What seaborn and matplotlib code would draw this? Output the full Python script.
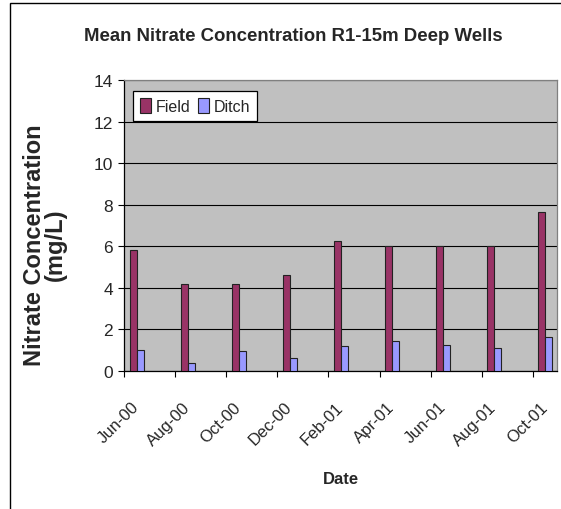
import matplotlib
matplotlib.use("Agg")
import matplotlib.pyplot as plt
import matplotlib.patches as mpatches
import seaborn as sns
import pandas as pd

dates = ["Jun-00", "Aug-00", "Oct-00", "Dec-00", "Feb-01", "Apr-01", "Jun-01", "Aug-01", "Oct-01"]
field = [5.8, 4.2, 4.2, 4.6, 6.25, 6.0, 6.0, 6.0, 7.67]
ditch = [1.02, 0.38, 0.96, 0.62, 1.19, 1.42, 1.24, 1.13, 1.65]
series = ["Field", "Ditch"]
colors = ["#993366", "#9999FF"]
yticks = [0, 2, 4, 6, 8, 10, 12, 14]

df = pd.DataFrame({
    "Date": dates * 2,
    "Value": field + ditch,
    "Series": [series[0]] * len(dates) + [series[1]] * len(dates),
})

sns.set_style("white")
plt.rcParams["font.family"] = ["Liberation Sans", "DejaVu Sans"]

W, H = 561, 510
fig = plt.figure(figsize=(W / 100, H / 100), dpi=100)
fig.patch.set_facecolor("white")

ax_l, ax_r, ax_t, ax_b = 124, 557, 81, 372
ax = fig.add_axes([ax_l / W, 1 - ax_b / H, (ax_r - ax_l) / W, (ax_b - ax_t) / H])
ax.set_facecolor("#C0C0C0")

sns.barplot(data=df, x="Date", y="Value", hue="Series", order=dates,
            hue_order=series, palette=colors, width=0.274, dodge=True,
            edgecolor="#222222", linewidth=0.8, saturation=1, ax=ax, zorder=3)

left = -0.245
ax.set_xlim(left, left + (ax_r - ax_l) / 51.1)
ax.set_ylim(0, 14)
ax.set_yticks(yticks)
ax.set_yticklabels([str(v) for v in yticks], fontsize=12.5)
ax.yaxis.grid(True, color="black", linewidth=0.8, zorder=1)
ax.set_axisbelow(True)

# boundaries (major ticks) and labels (minor ticks)
ax.set_xticks([left + k for k in range(len(dates))])
ax.set_xticklabels([])
ax.set_xticks(range(len(dates)), minor=True)
ax.set_xticklabels(dates, minor=True, rotation=45, ha="right", va="center",
                   rotation_mode="anchor", fontsize=12)
ax.tick_params(axis="x", which="major", direction="out", length=4, width=0.8,
               color="black", bottom=True)
ax.tick_params(axis="x", which="minor", length=0, pad=24)
ax.tick_params(axis="y", direction="out", length=4, width=0.8, color="black",
               left=True, pad=4)

for s in ["left", "bottom"]:
    ax.spines[s].set_color("black")
    ax.spines[s].set_linewidth(0.9)
for s in ["top", "right"]:
    ax.spines[s].set_color("#808080")
    ax.spines[s].set_linewidth(0.9)

ax.set_xlabel("")
ax.set_ylabel("")

leg = ax.legend(loc="upper left", bbox_to_anchor=(0.0208, 0.962), borderaxespad=0,
                ncol=2, fontsize=11.5, frameon=True, fancybox=False,
                handlelength=0.7, handleheight=1.0, handletextpad=0.25,
                columnspacing=0.5, borderpad=0.45, title=None)
leg.get_frame().set_edgecolor("black")
leg.get_frame().set_linewidth(0.9)
leg.get_frame().set_facecolor("white")
leg.get_frame().set_alpha(1)

fig.text(293.5 / W, 1 - 41 / H, "Mean Nitrate Concentration R1-15m Deep Wells",
         ha="center", va="baseline", fontsize=13.4, fontweight="bold")
fig.text(45 / W, 1 - 245 / H, "Nitrate Concentration\n(mg/L)", rotation=90,
         ha="center", va="center", fontsize=17, fontweight="bold",
         multialignment="center", linespacing=0.9)
fig.text(341 / W, 1 - 480 / H, "Date", ha="center", va="center",
         fontsize=12, fontweight="bold")

border = mpatches.Rectangle((9.5 / W, -0.2), 2, 1.2 - 3.5 / H, fill=False,
                            edgecolor="black", linewidth=1.0,
                            transform=fig.transFigure, clip_on=False)
fig.patches.append(border)

fig.savefig("out.png", dpi=100)
